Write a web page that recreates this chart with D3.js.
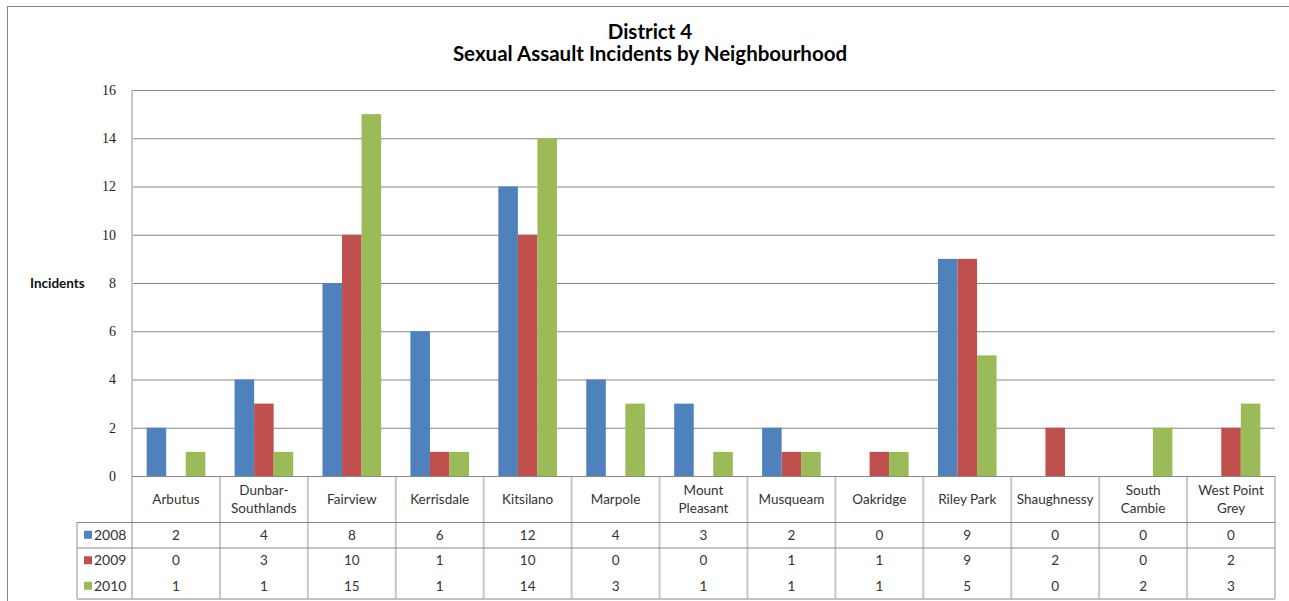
<!DOCTYPE html>
<html>
<head>
<meta charset="utf-8">
<script src="https://cdn.jsdelivr.net/npm/d3@7"></script>
<style>
  body { margin: 0; background: #fff; }
  svg { display: block; }
</style>
</head>
<body>
<div id="chart"></div>
<script>
// Chart data
const categories = ["Arbutus", "Dunbar-Southlands", "Fairview", "Kerrisdale", "Kitsilano", "Marpole",
  "Mount Pleasant", "Musqueam", "Oakridge", "Riley Park", "Shaughnessy", "South Cambie", "West Point Grey"];
const categoryLines = [["Arbutus"], ["Dunbar-", "Southlands"], ["Fairview"], ["Kerrisdale"], ["Kitsilano"],
  ["Marpole"], ["Mount", "Pleasant"], ["Musqueam"], ["Oakridge"], ["Riley Park"], ["Shaughnessy"],
  ["South", "Cambie"], ["West Point", "Grey"]];
const years = ["2008", "2009", "2010"];
const values2008 = [2, 4, 8, 6, 12, 4, 3, 2, 0, 9, 0, 0, 0];
const values2009 = [0, 3, 10, 1, 10, 0, 0, 1, 1, 9, 2, 0, 2];
const values2010 = [1, 1, 15, 1, 14, 3, 1, 1, 1, 5, 0, 2, 3];
const yTicks = [0, 2, 4, 6, 8, 10, 12, 14, 16];
const colors = ["#4f81bd", "#c0504d", "#9bbb59"];

const seriesValues = [values2008, values2009, values2010];

//******************************************************************************************** */
// Dimensions
const width = 1289;
const height = 601;
const plotLeft = 132, plotRight = 1275, plotTop = 90, plotBottom = 476;
const headerBottom = 522;
const rowHeight = 25.5;
const tableLeft = 77;

const svg = d3.select("#chart")
  .append("svg")
  .attr("width", width)
  .attr("height", height);

// Outer chart border
svg.append("rect")
  .attr("x", 7.5).attr("y", 6.5)
  .attr("width", 1295).attr("height", 610)
  .attr("fill", "#fff")
  .attr("stroke", "#868686")
  .attr("stroke-width", 1);

// Scales
const x = d3.scaleBand().domain(categories).range([plotLeft, plotRight]).padding(0);
const xInner = d3.scaleBand().domain(years).range([0, x.bandwidth()]).paddingInner(0).paddingOuter(0.75);
const y = d3.scaleLinear().domain([0, 16]).range([plotBottom, plotTop]);

// Title
const title = svg.append("text")
  .attr("text-anchor", "middle")
  .style("font-family", "Lato, 'Open Sans', sans-serif")
  .style("font-weight", "bold")
  .style("font-size", "20.5px")
  .attr("fill", "#000");
title.append("tspan").attr("x", 650).attr("y", 39).text("District 4");
title.append("tspan").attr("x", 650).attr("y", 61).text("Sexual Assault Incidents by Neighbourhood");

// Gridlines
svg.append("g")
  .attr("transform", `translate(${plotLeft},0)`)
  .call(d3.axisRight(y).tickValues(yTicks.filter(d => d > 0)).tickSize(plotRight - plotLeft).tickFormat(""))
  .call(g => g.select(".domain").remove())
  .call(g => g.selectAll("line").attr("stroke", "#868686"));

// Y axis labels
svg.append("g")
  .attr("transform", `translate(116,0)`)
  .call(d3.axisLeft(y).tickValues(yTicks).tickSize(0).tickPadding(0))
  .call(g => g.select(".domain").remove())
  .call(g => g.selectAll("text")
    .style("font-family", "'Liberation Serif', serif")
    .style("font-size", "14px")
    .attr("fill", "#222"));

svg.append("text")
  .attr("x", 30).attr("y", 288)
  .style("font-family", "Lato, sans-serif")
  .style("font-size", "13.5px")
  .style("font-weight", "bold")
  .attr("fill", "#111")
  .text("Incidents");

// Bars
years.forEach((yr, si) => {
  svg.append("g")
    .selectAll("rect")
    .data(categories)
    .enter()
    .append("rect")
    .attr("x", (d) => x(d) + xInner(yr))
    .attr("y", (d, i) => y(seriesValues[si][i]))
    .attr("width", xInner.bandwidth())
    .attr("height", (d, i) => y(0) - y(seriesValues[si][i]))
    .attr("fill", colors[si]);
});

//******************************************************************************************** */
// Data table
const tableBottom = headerBottom + rowHeight * 3;
const tbl = svg.append("g");

// Vertical separators (light gray)
const colEdges = categories.map(d => x(d)).concat([plotRight]);
tbl.selectAll("line.vsep")
  .data(colEdges)
  .enter()
  .append("line")
  .attr("x1", d => d).attr("x2", d => d)
  .attr("y1", (d, i) => i === 0 ? plotTop : plotBottom)
  .attr("y2", tableBottom)
  .attr("stroke", "#c8c8c8")
  .attr("stroke-width", 2);

tbl.append("line")
  .attr("x1", tableLeft).attr("x2", tableLeft)
  .attr("y1", headerBottom).attr("y2", tableBottom)
  .attr("stroke", "#c8c8c8").attr("stroke-width", 2);

// Horizontal lines
tbl.append("line")
  .attr("x1", plotLeft).attr("x2", plotRight)
  .attr("y1", plotBottom + 0.5).attr("y2", plotBottom + 0.5)
  .attr("stroke", "#868686");
[headerBottom, headerBottom + rowHeight, tableBottom].forEach(yy => {
  tbl.append("line")
    .attr("x1", tableLeft).attr("x2", plotRight)
    .attr("y1", yy + 0.5).attr("y2", yy + 0.5)
    .attr("stroke", "#868686");
});

const tableFont = "Lato, 'Open Sans', sans-serif";

// Category labels
categories.forEach((c, i) => {
  const lines = categoryLines[i];
  const cx = x(c) + x.bandwidth() / 2;
  const cy = (plotBottom + headerBottom) / 2;
  const t = tbl.append("text")
    .attr("text-anchor", "middle")
    .style("font-family", tableFont)
    .style("font-size", "13.5px")
    .attr("fill", "#333");
  lines.forEach((ln, li) => {
    t.append("tspan")
      .attr("x", cx)
      .attr("y", cy + 5 + (li - (lines.length - 1) / 2) * 18)
      .text(ln);
  });
});

// Table rows
years.forEach((yr, si) => {
  const rowMid = headerBottom + rowHeight * si + rowHeight / 2;
  tbl.append("rect")
    .attr("x", 84).attr("y", rowMid - 4)
    .attr("width", 8).attr("height", 8)
    .attr("fill", colors[si]);
  tbl.append("text")
    .attr("x", 94).attr("y", rowMid + 5)
    .style("font-family", tableFont)
    .style("font-size", "14px")
    .attr("fill", "#333")
    .text(yr);
  tbl.selectAll(null)
    .data(categories)
    .enter()
    .append("text")
    .attr("x", d => x(d) + x.bandwidth() / 2)
    .attr("y", rowMid + 5)
    .attr("text-anchor", "middle")
    .style("font-family", tableFont)
    .style("font-size", "13.5px")
    .attr("fill", "#333")
    .text((d, i) => seriesValues[si][i]);
});
</script>
</body>
</html>
